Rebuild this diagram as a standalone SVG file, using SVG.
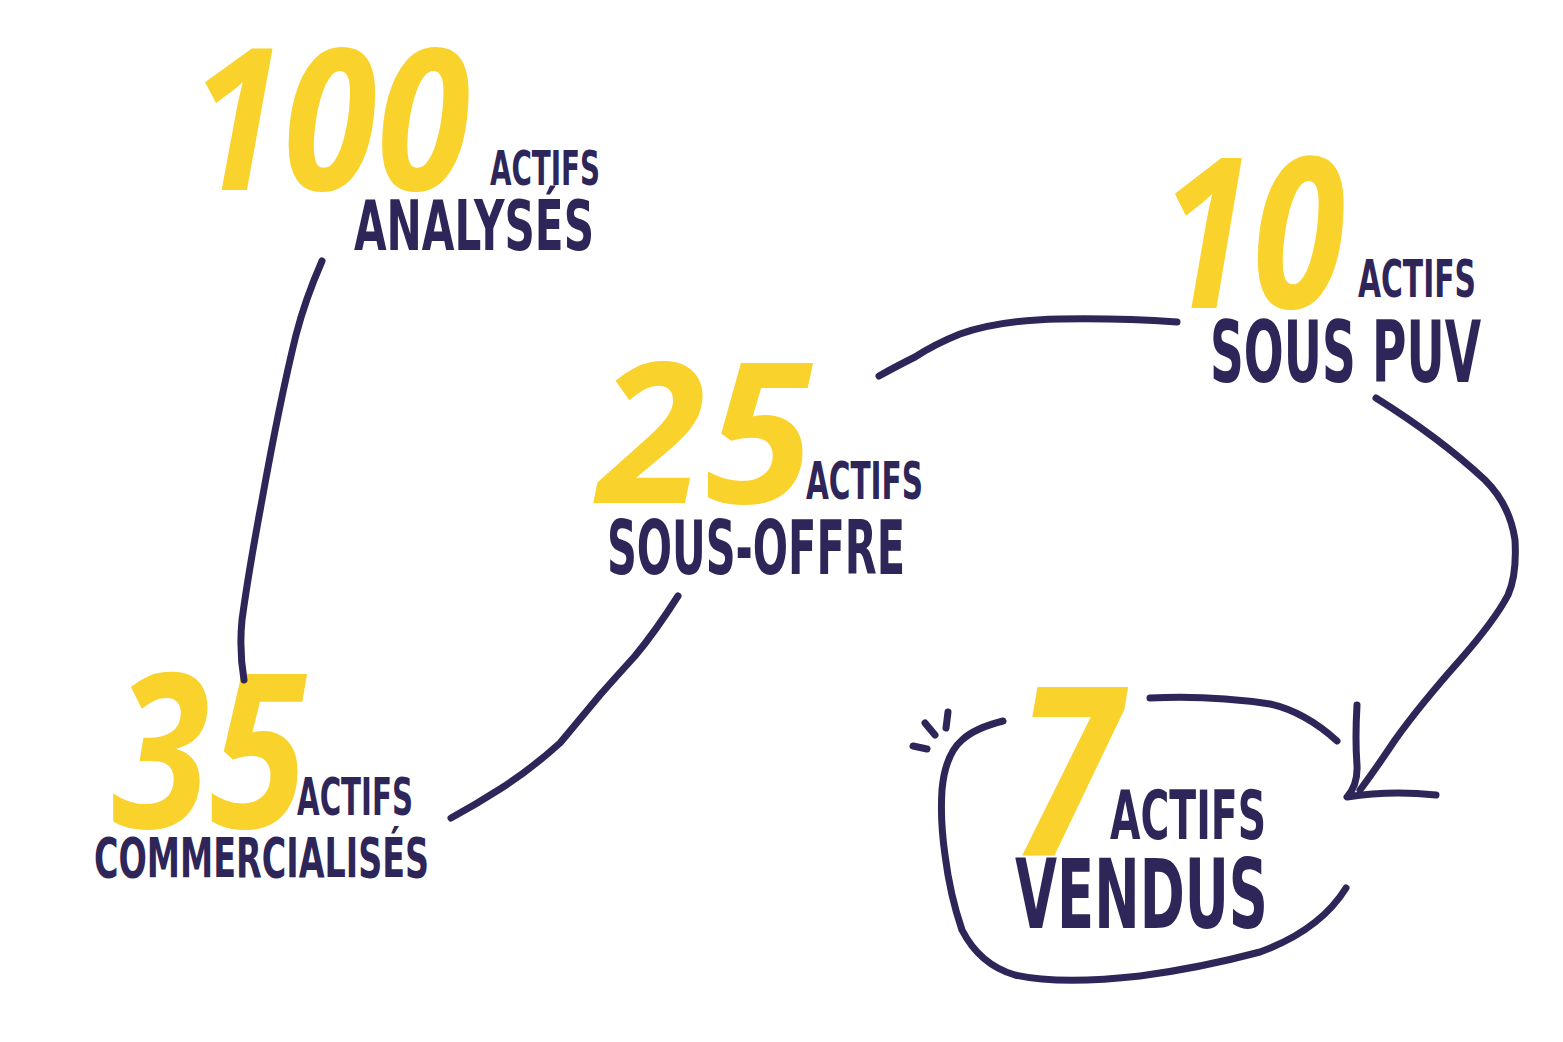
<svg xmlns="http://www.w3.org/2000/svg" width="1563" height="1042" viewBox="0 0 1563 1042">
<style>
.num{font-family:"Noto Sans","DejaVu Sans",sans-serif;font-weight:700;font-style:italic;fill:#F9D22C}
.lbl{font-family:"DejaVu Sans Condensed","DejaVu Sans",sans-serif;font-stretch:condensed;font-weight:700;fill:#2E2659}
.con{fill:none;stroke:#2E2659;stroke-width:7;stroke-linecap:round;stroke-linejoin:round}
</style>
<rect width="1563" height="1042" fill="#ffffff"/>
<g id="node-analyses">
<text class="num" x="190" y="190" font-size="198" textLength="280" lengthAdjust="spacingAndGlyphs">100</text>
<text class="lbl" x="490" y="185" font-size="48" textLength="110" lengthAdjust="spacingAndGlyphs">ACTIFS</text>
<text class="lbl" x="354" y="250" font-size="69" textLength="240" lengthAdjust="spacingAndGlyphs">ANALYSÉS</text>
</g>
<g id="node-sous-offre">
<text class="num" x="598" y="503" font-size="196" textLength="215" lengthAdjust="spacingAndGlyphs">25</text>
<text class="lbl" x="806" y="499" font-size="51" textLength="117" lengthAdjust="spacingAndGlyphs">ACTIFS</text>
<text class="lbl" x="607" y="574" font-size="74" textLength="298" lengthAdjust="spacingAndGlyphs">SOUS-OFFRE</text>
</g>
<g id="node-sous-puv">
<text class="num" x="1160" y="308" font-size="210" textLength="185" lengthAdjust="spacingAndGlyphs">10</text>
<text class="lbl" x="1358" y="297" font-size="51" textLength="118" lengthAdjust="spacingAndGlyphs">ACTIFS</text>
<text class="lbl" x="1210" y="382" font-size="85" textLength="271" lengthAdjust="spacingAndGlyphs">SOUS PUV</text>
</g>
<g id="node-commercialises">
<text class="num" x="112" y="828" font-size="215" textLength="195" lengthAdjust="spacingAndGlyphs">35</text>
<text class="lbl" x="297" y="815" font-size="52" textLength="116" lengthAdjust="spacingAndGlyphs">ACTIFS</text>
<text class="lbl" x="94" y="877" font-size="56" textLength="335" lengthAdjust="spacingAndGlyphs">COMMERCIALISÉS</text>
</g>
<g id="node-vendus">
<text class="num" x="1015" y="855" font-size="235" textLength="105" lengthAdjust="spacingAndGlyphs">7</text>
<text class="lbl" x="1110" y="839" font-size="67" textLength="156" lengthAdjust="spacingAndGlyphs">ACTIFS</text>
<text class="lbl" x="1015" y="928" font-size="97" textLength="253" lengthAdjust="spacingAndGlyphs">VENDUS</text>
</g>
<g id="connectors">
<path class="con" d="M322 261 Q305 300 296 335 Q280 400 262 500 Q248 575 242 620 Q239 650 244 680"/>
<path class="con" d="M678 596 Q655 632 635 656 Q615 678 600 695 Q575 725 560 743 Q530 770 500 789 Q475 805 451 818"/>
<path class="con" d="M1177 322 Q1120 318 1060 319 Q1000 320 960 334 Q935 344 915 357 Q895 367 879 376"/>
<path class="con" d="M1376 398 Q1440 438 1485 480 Q1510 505 1515 540 Q1517 575 1508 595 Q1495 620 1460 660 Q1420 705 1395 740 Q1375 770 1360 790"/>
<path class="con" stroke-width="9" d="M1357 705 Q1355 740 1357 765 Q1358 785 1347 797 Q1390 790 1436 795"/>
<path class="con" d="M1003 721 Q975 728 962 740 Q945 755 942 790 Q940 820 945 855 Q950 895 962 930 Q980 965 1015 975 Q1060 985 1140 976 Q1200 968 1260 952 Q1320 930 1346 888"/>
<path class="con" d="M1150 698 Q1210 695 1270 704 Q1305 712 1337 741"/>
<path class="con" stroke-width="6" d="M925 723 L935 735"/>
<path class="con" stroke-width="6" d="M948 712 L946 728"/>
<path class="con" stroke-width="6" d="M913 746 L927 749"/>
</g>
</svg>
